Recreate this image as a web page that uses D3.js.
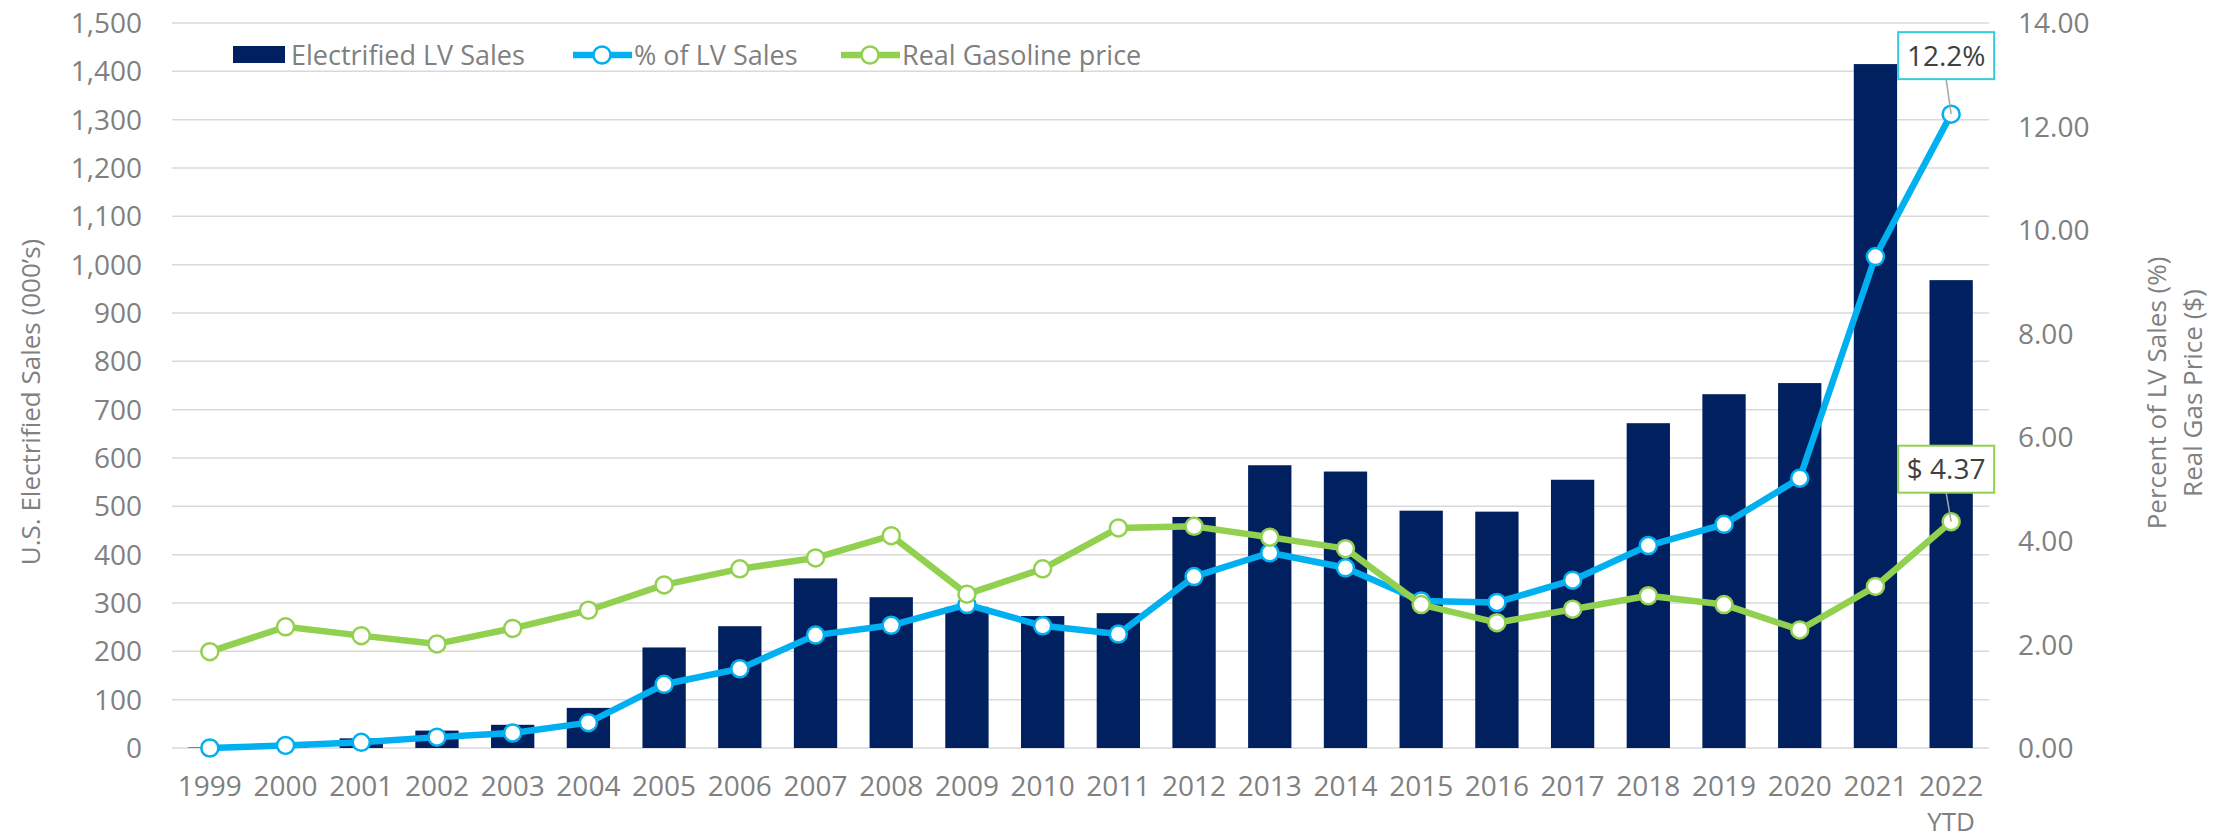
<!DOCTYPE html>
<html>
<head>
<meta charset="utf-8">
<script src="https://cdn.jsdelivr.net/npm/d3@7"></script>
<style>
  body { margin: 0; background: #fff; }
  text { font-family: "Open Sans", sans-serif; }
</style>
</head>
<body>
<svg id="chart" width="2229" height="839"></svg>
<script>
// categories (last one has a second line)
var categories = ['1999', '2000', '2001', '2002', '2003', '2004', '2005', '2006', '2007', '2008', '2009', '2010',
    '2011', '2012', '2013', '2014', '2015', '2016', '2017', '2018', '2019', '2020', '2021', '2022 YTD'];

// electrified light vehicle sales, thousands (left axis)
var evSales = [1, 9, 20, 36, 48, 83, 208, 252, 351, 312, 292, 273, 279, 478, 585, 572, 491, 489, 555, 672, 732, 755, 1415, 968];

// % of LV sales (right axis)
var pctSales = [0.0, 0.05, 0.11, 0.21, 0.29, 0.49, 1.23, 1.53, 2.18, 2.37, 2.77, 2.36, 2.20, 3.31, 3.77, 3.48, 2.84, 2.81,
    3.24, 3.91, 4.32, 5.21, 9.49, 12.24];

// real gasoline price, $ (right axis)
var gasPrice = [1.86, 2.34, 2.17, 2.01, 2.31, 2.66, 3.15, 3.46, 3.67, 4.10, 2.97, 3.46, 4.25, 4.28, 4.07, 3.85, 2.77, 2.42,
    2.68, 2.94, 2.77, 2.28, 3.12, 4.37];

var leftTicks = d3.range(0, 1501, 100);
var rightTicks = d3.range(0, 14.01, 2);

var navy = '#002060', blue = '#00B0F0', green = '#92D050', grid = '#D9D9D9', axisGray = '#808080';

const svg = d3.select('#chart');

const x = d3.scaleBand().domain(categories).range([172, 1989]);
const yL = d3.scaleLinear().domain([0, 1500]).range([748, 23]);
const yR = d3.scaleLinear().domain([0, 14]).range([748, 23]);
const barW = x.bandwidth() * 0.572;
const cx = (d) => x(d) + x.bandwidth() / 2;

// gridlines
svg.append('g').selectAll('line')
    .data(leftTicks)
    .enter().append('line')
    .attr('x1', 172).attr('x2', 1989)
    .attr('y1', (d) => yL(d)).attr('y2', (d) => yL(d))
    .style('stroke', grid).style('stroke-width', 1.5);

// left axis labels
const fmtL = d3.format(',');
svg.append('g').selectAll('text')
    .data(leftTicks)
    .enter().append('text')
    .attr('x', 142).attr('y', (d) => yL(d)).attr('dy', '0.36em')
    .attr('text-anchor', 'end')
    .style('font-size', '28px').style('fill', axisGray)
    .text((d) => fmtL(d));

// right axis labels
svg.append('g').selectAll('text')
    .data(rightTicks)
    .enter().append('text')
    .attr('x', 2018).attr('y', (d) => yR(d)).attr('dy', '0.36em')
    .style('font-size', '28px').style('fill', axisGray)
    .text((d) => d.toFixed(2));

// x labels, second line (YTD) as its own text
const xg = svg.append('g');
categories.forEach(function (d) {
    var parts = d.split(' ');
    xg.append('text')
        .attr('x', cx(d)).attr('y', 796)
        .attr('text-anchor', 'middle')
        .style('font-size', '28px').style('fill', axisGray)
        .text(parts[0]);
    if (parts[1]) {
        xg.append('text')
            .attr('x', cx(d)).attr('y', 831)
            .attr('text-anchor', 'middle')
            .style('font-size', '26px').style('fill', axisGray)
            .text(parts[1]);
    }
});

// axis titles
svg.append('text')
    .attr('transform', 'translate(31,402) rotate(-90)')
    .attr('dy', '0.35em').attr('text-anchor', 'middle')
    .style('font-size', '26px').style('fill', axisGray)
    .text('U.S. Electrified Sales (000\u2019s)');
svg.append('text')
    .attr('transform', 'translate(2157,393) rotate(-90)')
    .attr('dy', '0.35em').attr('text-anchor', 'middle')
    .style('font-size', '26px').style('fill', axisGray)
    .text('Percent of LV Sales (%)');
svg.append('text')
    .attr('transform', 'translate(2193,393) rotate(-90)')
    .attr('dy', '0.35em').attr('text-anchor', 'middle')
    .style('font-size', '26px').style('fill', axisGray)
    .text('Real Gas Price ($)');

// bars
svg.append('g').selectAll('rect')
    .data(evSales)
    .enter().append('rect')
    .attr('x', (d, i) => cx(categories[i]) - barW / 2)
    .attr('width', barW)
    .attr('y', (d) => yL(d))
    .attr('height', (d) => yL(0) - yL(d))
    .style('fill', navy);

function plotLine(values, color) {
    var line = d3.line()
        .x((d, i) => cx(categories[i]))
        .y((d) => yR(d));
    svg.append('path')
        .datum(values)
        .attr('d', line)
        .style('fill', 'none').style('stroke', color)
        .style('stroke-width', 6.5).style('stroke-linejoin', 'round');
    svg.append('g').selectAll('circle')
        .data(values)
        .enter().append('circle')
        .attr('cx', (d, i) => cx(categories[i]))
        .attr('cy', (d) => yR(d))
        .attr('r', 8.5)
        .style('fill', '#fff').style('stroke', color).style('stroke-width', 2.5);
}
plotLine(pctSales, blue);
plotLine(gasPrice, green);

// data labels on the last point
function callout(value, text, color, dyBox) {
    var last = categories.length - 1;
    var px = cx(categories[last]), py = yR(value);
    var bx = px - 53, by = py + dyBox, bw = 96, bh = 47;
    svg.append('line')
        .attr('x1', px - 5).attr('y1', by + bh)
        .attr('x2', px).attr('y2', py)
        .style('stroke', '#A6A6A6').style('stroke-width', 1.5);
    svg.append('rect')
        .attr('x', bx).attr('y', by).attr('width', bw).attr('height', bh)
        .style('fill', '#fff').style('stroke', color).style('stroke-width', 2);
    svg.append('text')
        .attr('x', bx + bw / 2).attr('y', by + bh / 2).attr('dy', '0.36em')
        .attr('text-anchor', 'middle')
        .style('font-size', '28px').style('fill', '#404040')
        .text(text);
}
callout(pctSales[pctSales.length - 1], d3.format('.1f')(pctSales[pctSales.length - 1]) + '%', '#33CCDD', -82);
callout(gasPrice[gasPrice.length - 1], '$ ' + d3.format('.2f')(gasPrice[gasPrice.length - 1]), green, -76);

// legend
const lg = svg.append('g');
lg.append('rect').attr('x', 233).attr('y', 46).attr('width', 52).attr('height', 17).style('fill', navy);
lg.append('text').attr('x', 291).attr('y', 55).attr('dy', '0.36em')
    .style('font-size', '27px').style('fill', axisGray).text('Electrified LV Sales');
[[573, blue, '% of LV Sales'], [841, green, 'Real Gasoline price']].forEach(function (l) {
    lg.append('line').attr('x1', l[0]).attr('x2', l[0] + 59).attr('y1', 55).attr('y2', 55)
        .style('stroke', l[1]).style('stroke-width', 6.5);
    lg.append('circle').attr('cx', l[0] + 29).attr('cy', 55).attr('r', 8.5)
        .style('fill', '#fff').style('stroke', l[1]).style('stroke-width', 2.5);
    lg.append('text').attr('x', l[0] + 61).attr('y', 55).attr('dy', '0.36em')
        .style('font-size', '27px').style('fill', axisGray).text(l[2]);
});
</script>
</body>
</html>
